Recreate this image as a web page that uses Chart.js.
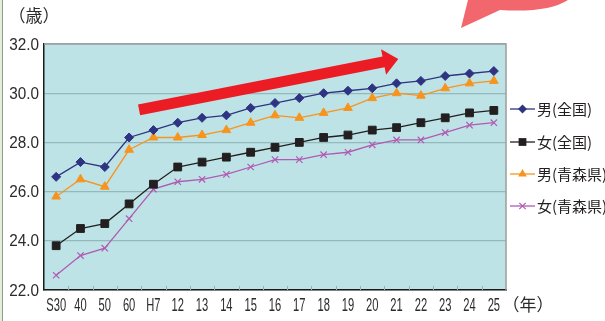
<!doctype html>
<html lang="ja">
<head>
<meta charset="utf-8">
<title>平均初婚年齢</title>
<script src="https://cdn.jsdelivr.net/npm/chart.js"></script>
<style>
  html, body { margin: 0; padding: 0; background: #fff; }
  #wrap { position: relative; width: 605px; height: 321px; overflow: hidden; }
  #frame { position: absolute; left: 0; top: 0; width: 2px; height: 321px; background: #e4edda; border-right: 1px solid #8e9c8b; }
  #bubble { position: absolute; left: 0; top: 0; }
  canvas { position: absolute; left: 0; top: 0; }
</style>
</head>
<body>
<div id="wrap">
  <canvas id="chart" width="605" height="321"></canvas>
  <svg id="bubble" width="605" height="40">
    <path d="M461,28 L468,0 L568,0 Q548,13 500,10 Z" fill="#f1676d"/>
  </svg>
  <div id="frame"></div>
</div>
<script>
// 年次 (昭和・平成)
const categories = ['S30', '40', '50', '60', 'H7', '12', '13', '14', '15', '16', '17', '18', '19', '20', '21', '22', '23', '24', '25'];
const seriesNames = ['男(全国)', '女(全国)', '男(青森県)', '女(青森県)'];
const maleNational   = [26.6, 27.2, 27.0, 28.2, 28.5, 28.8, 29.0, 29.1, 29.4, 29.6, 29.8, 30.0, 30.1, 30.2, 30.4, 30.5, 30.7, 30.8, 30.9];
const femaleNational = [23.8, 24.5, 24.7, 25.5, 26.3, 27.0, 27.2, 27.4, 27.6, 27.8, 28.0, 28.2, 28.3, 28.5, 28.6, 28.8, 29.0, 29.2, 29.3];
const maleAomori     = [25.8, 26.5, 26.2, 27.7, 28.2, 28.2, 28.3, 28.5, 28.8, 29.1, 29.0, 29.2, 29.4, 29.8, 30.0, 29.9, 30.2, 30.4, 30.5];
const femaleAomori   = [22.6, 23.4, 23.7, 24.9, 26.1, 26.4, 26.5, 26.7, 27.0, 27.3, 27.3, 27.5, 27.6, 27.9, 28.1, 28.1, 28.4, 28.7, 28.8];
const yTicks = [22, 24, 26, 28, 30, 32];

const colors = ['#2e3382', '#231f20', '#f7941d', '#b05ab3'];
const styles = ['rectRot', 'rect', 'triangle', 'crossRot'];
const radii = [4.5, 5.5, 5, 4.5];
const values = [maleNational, femaleNational, maleAomori, femaleAomori];

const datasets = values.map((v, i) => ({
    label: seriesNames[i],
    data: v,
    borderColor: colors[i],
    backgroundColor: colors[i],
    borderWidth: 1.3,
    pointStyle: styles[i],
    pointRadius: radii[i],
    pointBorderWidth: i == 3 ? 1.2 : 1,
    pointBackgroundColor: colors[i],
    pointBorderColor: colors[i],
    tension: 0
}));

function marker(ctx, style, x, y, r, color) {
    ctx.save();
    ctx.fillStyle = color;
    ctx.strokeStyle = color;
    ctx.lineWidth = 1.2;
    ctx.beginPath();
    if (style == 'rectRot') {
        ctx.moveTo(x, y - r); ctx.lineTo(x + r, y); ctx.lineTo(x, y + r); ctx.lineTo(x - r, y);
        ctx.closePath(); ctx.fill();
    } else if (style == 'rect') {
        const s = Math.SQRT1_2 * r;
        ctx.rect(x - s, y - s, 2 * s, 2 * s); ctx.fill();
    } else if (style == 'triangle') {
        ctx.moveTo(x, y - r);
        ctx.lineTo(x + r * 0.866, y + r / 2);
        ctx.lineTo(x - r * 0.866, y + r / 2);
        ctx.closePath(); ctx.fill();
    } else {
        const s = Math.SQRT1_2 * r;
        ctx.moveTo(x - s, y - s); ctx.lineTo(x + s, y + s);
        ctx.moveTo(x + s, y - s); ctx.lineTo(x - s, y + s);
        ctx.stroke();
    }
    ctx.restore();
}

const decor = {
    id: 'decor',
    beforeDraw(chart) {
        const a = chart.chartArea, ctx = chart.ctx;
        ctx.save();
        ctx.fillStyle = '#bee3e6';
        ctx.fillRect(a.left, a.top, a.right - a.left, a.bottom - a.top);
        ctx.restore();
    },
    beforeDatasetsDraw(chart) {
        const a = chart.chartArea, ctx = chart.ctx, xs = chart.scales.x;
        ctx.save();
        // gray frame top / right
        ctx.strokeStyle = '#9d9d9d';
        ctx.lineWidth = 1.5;
        ctx.beginPath();
        ctx.moveTo(a.left, a.top); ctx.lineTo(a.right, a.top); ctx.lineTo(a.right, a.bottom);
        ctx.stroke();
        // small inner ticks between categories
        ctx.strokeStyle = '#8fb3b6';
        ctx.lineWidth = 1;
        for (let i = 1; i < categories.length; i++) {
            const px = Math.round((xs.getPixelForValue(i - 1) + xs.getPixelForValue(i)) / 2) + 0.5;
            ctx.beginPath();
            ctx.moveTo(px, a.bottom); ctx.lineTo(px, a.bottom - 4);
            ctx.stroke();
        }
        ctx.restore();
    },
    afterDatasetsDraw(chart) {
        const ctx = chart.ctx, xs = chart.scales.x, ys = chart.scales.y;
        // red trend arrow
        const x0 = xs.getPixelForValue(3.41), y0 = ys.getPixelForValue(29.32);
        const x1 = xs.getPixelForValue(14.07), y1 = ys.getPixelForValue(31.39);
        const len = Math.hypot(x1 - x0, y1 - y0);
        const ux = (x1 - x0) / len, uy = (y1 - y0) / len;
        const nx = -uy, ny = ux;
        const hw = 5.5, hh = 13, hl = 15;
        const bx = x1 - ux * hl, by = y1 - uy * hl;
        ctx.save();
        ctx.fillStyle = '#ec1c24';
        ctx.beginPath();
        ctx.moveTo(x0 + nx * hw, y0 + ny * hw);
        ctx.lineTo(bx + nx * hw, by + ny * hw);
        ctx.lineTo(bx + nx * hh, by + ny * hh);
        ctx.lineTo(x1, y1);
        ctx.lineTo(bx - nx * hh, by - ny * hh);
        ctx.lineTo(bx - nx * hw, by - ny * hw);
        ctx.lineTo(x0 - nx * hw, y0 - ny * hw);
        ctx.closePath();
        ctx.fill();
        ctx.restore();
    },
    afterDraw(chart) {
        const a = chart.chartArea, ctx = chart.ctx, xs = chart.scales.x, ys = chart.scales.y;
        ctx.save();
        ctx.fillStyle = '#2b2b2b';
        ctx.textBaseline = 'middle';
        // y labels
        ctx.font = '17px "Liberation Sans", Arial, sans-serif';
        ctx.textAlign = 'right';
        yTicks.forEach(t => {
            const py = ys.getPixelForValue(t) + 1;
            ctx.save();
            ctx.translate(39, py);
            ctx.scale(0.9, 1);
            ctx.fillText(t.toFixed(1), 0, 0);
            ctx.restore();
        });
        // x labels (condensed)
        ctx.font = '18px "Liberation Sans", Arial, sans-serif';
        ctx.textAlign = 'center';
        categories.forEach((c, i) => {
            ctx.save();
            ctx.translate(xs.getPixelForValue(i), a.bottom + 16);
            ctx.scale(0.62, 1);
            ctx.fillText(c, 0, 0);
            ctx.restore();
        });
        // unit labels
        ctx.font = '17px "Noto Sans CJK JP", sans-serif';
        ctx.fillText('（歳）', 34, 16);
        ctx.fillText('（年）', 528, a.bottom + 15);
        // legend
        const ly = [109, 142, 174, 206];
        ctx.textAlign = 'left';
        ctx.font = '15px "Noto Sans CJK JP", sans-serif';
        seriesNames.forEach((n, i) => {
            ctx.strokeStyle = colors[i];
            ctx.lineWidth = 1.3;
            ctx.beginPath();
            ctx.moveTo(510, ly[i]); ctx.lineTo(535, ly[i]);
            ctx.stroke();
            marker(ctx, styles[i], 522.5, ly[i], radii[i], colors[i]);
            ctx.fillStyle = '#231f20';
            ctx.fillText(n, 537, ly[i]);
        });
        ctx.restore();
    }
};

new Chart(document.getElementById('chart').getContext('2d'), {
    type: 'line',
    data: { labels: categories, datasets: datasets },
    options: {
        responsive: false,
        devicePixelRatio: 1,
        animation: false,
        layout: { padding: { left: 44, top: 44, right: 99, bottom: 31 } },
        plugins: { legend: { display: false }, tooltip: { enabled: false } },
        scales: {
            x: {
                offset: true,
                grid: { display: false, drawTicks: false },
                border: { display: true, color: '#1a1a1a', width: 1.5 },
                ticks: { display: false }
            },
            y: {
                min: 22,
                max: 32,
                ticks: { display: false, stepSize: 2 },
                grid: { color: '#93b9bc', lineWidth: 1.2, drawTicks: false },
                border: { display: true, color: '#1a1a1a', width: 1.5 }
            }
        }
    },
    plugins: [decor]
});
</script>
</body>
</html>
